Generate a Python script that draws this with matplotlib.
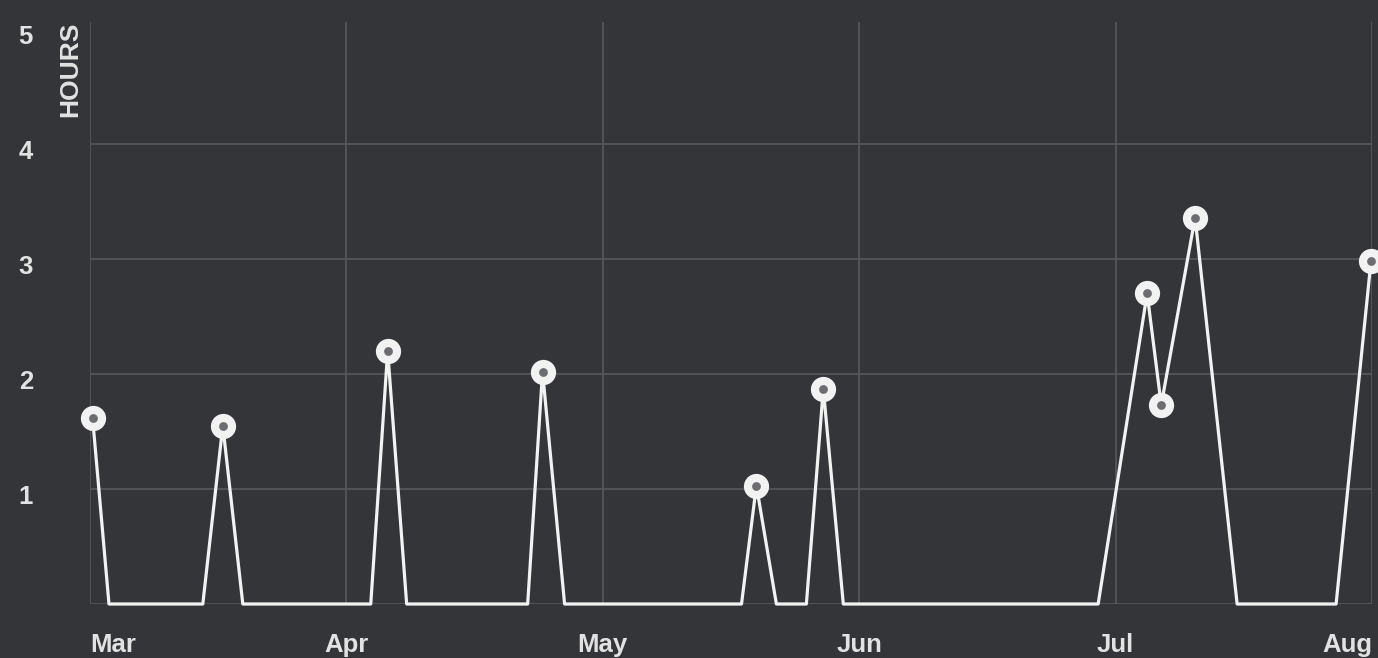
import matplotlib
matplotlib.use("Agg")
import matplotlib.pyplot as plt
import matplotlib.transforms as mtransforms

# x in months since Mar 1 (0 = Mar, 5 = Aug), y in hours
months = ["Mar", "Apr", "May", "Jun", "Jul", "Aug"]
xpos = [0.01, 0.074, 0.44, 0.518, 0.596, 1.095, 1.161, 1.235, 1.707, 1.765,
        1.851, 2.541, 2.599, 2.677, 2.794, 2.860, 2.938, 3.932, 4.123, 4.178,
        4.310, 4.474, 4.860, 4.996]
hours = [1.62, 0, 0, 1.55, 0, 0, 2.2, 0, 0, 2.02,
         0, 0, 1.03, 0, 0, 1.87, 0, 0, 2.7, 1.73,
         3.36, 0, 0, 2.98]
yticks = [1, 2, 3, 4, 5]
ygrid = [0, 1, 2, 3, 4]

bg = "#343539"
gridc = "#58595d"
txtc = "#e2e2e2"
linec = "#f2f2f2"

plt.rcParams["font.family"] = ["Liberation Sans", "DejaVu Sans"]

W, H = 1378, 658
fig = plt.figure(figsize=(W/100, H/100), dpi=100)
fig.patch.set_facecolor(bg)
ax = fig.add_axes([90/W, (H-604)/H, (1372-90)/W, (604-22)/H])
ax.set_facecolor(bg)
for s in ax.spines.values():
	s.set_visible(False)

ax.set_xlim(0, 5)
ax.set_ylim(0, 5.06)

for g in ygrid:
	ax.axhline(g, color=gridc, lw=1.2, zorder=1)
for i in range(len(months)):
	ax.axvline(i, color=gridc, lw=1.2, zorder=1)

ax.plot(xpos, hours, color=linec, lw=2.3, zorder=3, clip_on=False)

px = [x for x, y in zip(xpos, hours) if y > 0]
py = [y for y in hours if y > 0]
ax.scatter(px, py, s=330, color=linec, zorder=4, clip_on=False, linewidths=0)
ax.scatter(px, py, s=40, color="#6c6d71", zorder=5, clip_on=False, linewidths=0)

# ticks
ax.set_xticks(range(len(months)))
ax.set_xticklabels(months, fontsize=18.5, fontweight="bold", color=txtc)
ax.tick_params(axis="x", length=0, pad=21)
xl = ax.get_xticklabels()
xl[0].set_ha("left")
xl[-1].set_ha("right")

ax.set_yticks(yticks)
ax.set_yticklabels([str(v) for v in yticks], fontsize=18.5, fontweight="bold", color=txtc)
ax.tick_params(axis="y", length=0, pad=41)
off = mtransforms.ScaledTranslation(0, -6/100, fig.dpi_scale_trans)
for lab in ax.get_yticklabels():
	lab.set_transform(lab.get_transform() + off)

fig.text(70/W, 1-22/H, "HOURS", rotation=90, ha="center", va="top",
		fontsize=19, fontweight="bold", color=txtc)

fig.savefig("out.png", dpi=100, facecolor=bg)
